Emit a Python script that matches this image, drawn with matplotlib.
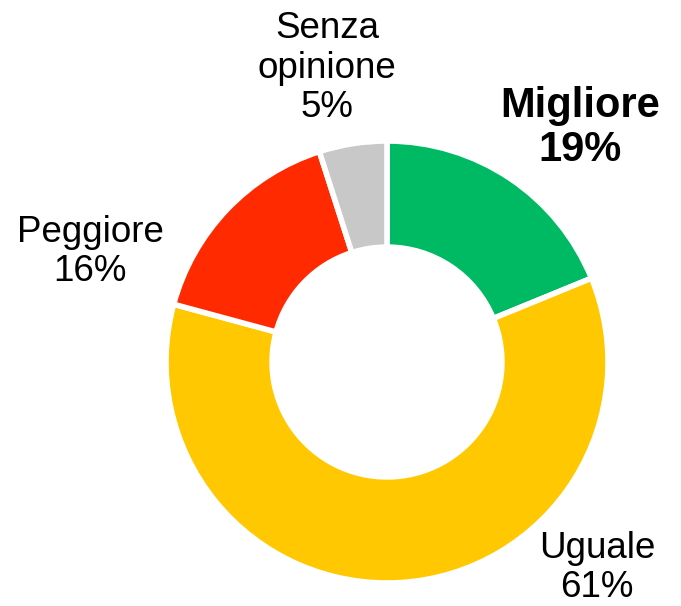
import matplotlib.pyplot as plt

plt.rcParams['font.family'] = ['Liberation Sans', 'DejaVu Sans']

labels = ["Migliore", "Uguale", "Peggiore", "Senza\nopinione"]
values = [19, 61, 16, 5]
colors = ["#00BA63", "#FFC800", "#FF2A00", "#C8C8C8"]

fig = plt.figure(figsize=(6.81, 6.06), dpi=100)
ax = fig.add_axes([0, 0, 1, 1])

# donut, clockwise from 12 o'clock
ax.pie(values, colors=colors, startangle=90, counterclock=False,
       radius=1.0, wedgeprops=dict(width=0.48, edgecolor="white", linewidth=4))

# place axes so the ring sits where it does in the reference (px -> data)
cx, cy, r = 387, 362, 221
ax.set_xlim(-cx / r, (681 - cx) / r)
ax.set_ylim(-(606 - cy) / r, cy / r)
ax.set_aspect("equal")
ax.axis("off")

def px(x, y):
    return (x - cx) / r, (cy - y) / r

label_pos = [(580, 128), (597, 568), (90, 252), (327, 68)]
for i, (lab, val) in enumerate(zip(labels, values)):
    x, y = px(*label_pos[i])
    bold = i == 0
    ax.text(x, y, f"{lab}\n{val}%", ha="center", va="center",
            fontsize=30 if bold else 26.5, fontweight="bold" if bold else "normal",
            linespacing=1.15)

fig.savefig("out.png", dpi=100)
